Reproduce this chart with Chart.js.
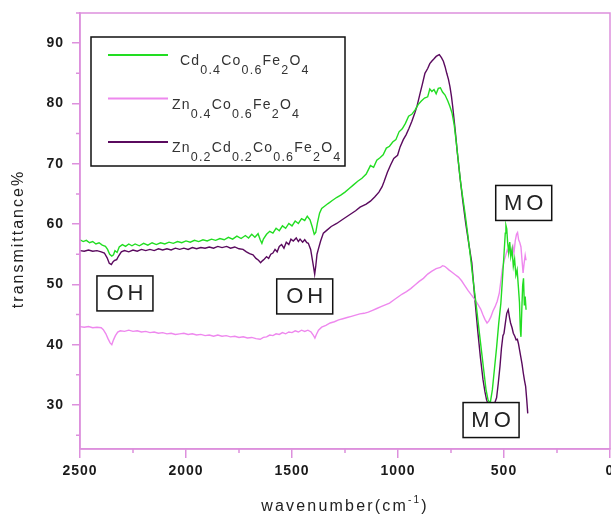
<!DOCTYPE html>
<html>
<head>
<meta charset="utf-8">
<script src="https://cdn.jsdelivr.net/npm/chart.js@4.4.0/dist/chart.umd.min.js"></script>
<style>
  html, body { margin: 0; padding: 0; background: #fff; overflow: hidden; }
  #wrap { width: 630px; height: 518px; }
</style>
</head>
<body>
<div id="wrap"><canvas id="ftirChart" width="630" height="518"></canvas></div>
<script>
const seriesLabels = ['Cd0.4Co0.6Fe2O4', 'Zn0.4Co0.6Fe2O4', 'Zn0.2Cd0.2Co0.6Fe2O4'];

const cdWave = [2500, 2485, 2470, 2455, 2440, 2425, 2410, 2395, 2380, 2370, 2360, 2350, 2342, 2335, 2325, 2315, 2300, 2285, 2270, 2255,
  2240, 2220, 2200, 2180, 2160, 2140, 2120, 2100, 2080, 2060, 2040, 2020, 2000, 1980, 1960, 1940, 1920, 1900, 1880, 1860,
  1840, 1820, 1800, 1780, 1760, 1740, 1720, 1705, 1690, 1675, 1660, 1650, 1642, 1635, 1620, 1605, 1590, 1575, 1560, 1545,
  1530, 1515, 1500, 1485, 1470, 1455, 1440, 1428, 1415, 1405, 1395, 1388, 1380, 1370, 1360, 1345, 1330, 1310, 1290, 1270,
  1250, 1230, 1210, 1190, 1170, 1150, 1130, 1115, 1100, 1085, 1070, 1055, 1040, 1025, 1010, 995, 980, 965, 950, 935,
  920, 905, 890, 875, 860, 850, 840, 830, 820, 810, 800, 790, 778, 765, 755, 745, 735, 725, 715, 705,
  695, 684, 670, 658, 646, 632, 618, 605, 595, 585, 575, 565, 555, 545, 535, 525, 515, 508, 500, 494,
  491, 487, 483, 478, 473, 468, 462, 456, 450, 444, 438, 432, 427, 423, 420, 416, 412, 408, 404, 400, 396];
const cdTrans = [57.4, 57.1, 57.3, 56.9, 57.1, 56.7, 56.9, 56.5, 56.3, 55.8, 55.0, 54.7, 54.9, 55.6, 55.3, 56.2, 56.6, 56.3, 56.7, 56.4,
  56.7, 56.4, 56.8, 56.5, 56.9, 56.6, 56.9, 56.7, 57.0, 56.8, 57.1, 56.9, 57.2, 57.0, 57.3, 57.1, 57.4, 57.2, 57.5, 57.3,
  57.6, 57.4, 57.8, 57.5, 58.0, 57.6, 58.1, 57.7, 58.3, 57.8, 58.4, 57.4, 56.8, 57.5, 58.3, 58.8, 58.5, 59.3, 58.9, 59.7,
  59.3, 60.1, 59.7, 60.5, 60.1, 60.9, 60.6, 61.3, 60.7, 59.6, 58.3, 58.6, 60.2, 61.8, 62.6, 63.0, 63.4, 63.9, 64.4, 64.8,
  65.3, 65.9, 66.5, 67.1, 67.6, 68.3, 69.7, 69.4, 70.6, 71.0, 71.5, 72.6, 72.9, 73.6, 74.0, 75.3, 75.8, 76.7, 77.9, 78.2,
  78.9, 79.8, 80.4, 80.9, 81.1, 82.4, 82.0, 82.3, 81.6, 82.5, 82.6, 81.9, 81.4, 80.4, 79.5, 78.4, 76.5, 73.5, 70.3, 67.0,
  64.5, 61.8, 58.0, 54.5, 50.8, 46.8, 42.5, 38.6, 35.6, 32.6, 30.8, 30.3, 32.5, 36.0, 39.5, 43.5, 46.8, 50.5, 55.0, 58.5,
  59.8, 59.2, 57.0, 55.3, 57.0, 54.6, 55.8, 53.0, 54.2, 51.5, 52.4, 49.5, 47.0, 42.5, 41.3, 45.8, 49.8, 51.0, 46.5, 48.0, 45.8];

const znWave = [2500, 2480, 2460, 2440, 2420, 2400, 2390, 2378, 2368, 2358, 2350, 2342, 2333, 2322, 2310, 2290, 2270, 2250, 2230, 2210,
  2190, 2170, 2150, 2130, 2110, 2090, 2070, 2050, 2030, 2010, 1990, 1970, 1950, 1930, 1910, 1890, 1870, 1850, 1830, 1810,
  1790, 1770, 1750, 1730, 1710, 1690, 1670, 1650, 1635, 1620, 1605, 1590, 1575, 1560, 1545, 1530, 1515, 1500, 1485, 1470,
  1455, 1440, 1425, 1410, 1400, 1392, 1385, 1375, 1360, 1340, 1320, 1300, 1280, 1260, 1240, 1220, 1200, 1180, 1160, 1140,
  1120, 1100, 1080, 1060, 1040, 1020, 1000, 980, 960, 940, 920, 900, 880, 860, 840, 820, 800, 790, 780, 770,
  760, 745, 730, 715, 700, 685, 670, 655, 640, 625, 610, 600, 590, 580, 572, 562, 552, 542, 532, 522,
  515, 508, 499, 492, 485, 478, 472, 465, 458, 453, 447, 441, 436, 431, 426, 420, 415, 410, 405, 400, 396];
const znTrans = [43.0, 42.9, 43.0, 42.8, 42.9, 42.8, 42.5, 41.8, 41.0, 40.3, 40.0, 40.8, 41.5, 42.1, 42.3, 42.2, 42.4, 42.2, 42.3, 42.1,
  42.2, 42.0, 42.1, 41.9, 42.0, 41.8, 41.9, 41.7, 41.8, 41.9, 41.7, 41.8, 41.6, 41.7, 41.5, 41.6, 41.4, 41.6, 41.4, 41.5,
  41.3, 41.4, 41.2, 41.3, 41.1, 41.2, 41.0, 40.9, 41.2, 41.3, 41.6, 41.5, 41.8, 41.7, 42.0, 41.8, 42.1, 42.0, 42.3, 42.1,
  42.4, 42.2, 42.4, 42.1, 41.6, 41.1, 41.7, 42.4, 42.9, 43.2, 43.6, 43.8, 44.1, 44.3, 44.5, 44.7, 44.9, 45.1, 45.2, 45.4,
  45.7, 46.0, 46.3, 46.6, 46.9, 47.4, 47.9, 48.4, 48.8, 49.3, 49.9, 50.5, 51.0, 51.7, 52.2, 52.6, 52.8, 53.1, 53.0, 52.7,
  52.4, 52.0, 51.6, 51.2, 50.6, 49.8, 49.0, 48.3, 47.6, 46.8, 45.9, 45.0, 44.2, 43.6, 43.9, 44.6, 45.6, 46.3, 47.2, 48.6,
  50.5, 52.5, 54.0, 54.8, 55.7, 55.2, 56.0, 55.2, 56.3, 55.2, 57.2, 58.3, 58.6, 57.4, 57.0, 56.2, 54.0, 51.9, 53.5, 54.8, 54.0];

const zncdWave = [2500, 2480, 2460, 2440, 2420, 2400, 2385, 2372, 2362, 2352, 2343, 2335, 2327, 2318, 2305, 2290, 2270, 2250, 2230, 2210,
  2190, 2170, 2150, 2130, 2110, 2090, 2070, 2050, 2030, 2010, 1990, 1970, 1950, 1930, 1910, 1890, 1870, 1850, 1830, 1808,
  1790, 1770, 1750, 1731, 1715, 1700, 1684, 1670, 1658, 1648, 1640, 1630, 1620, 1610, 1600, 1590, 1580, 1570, 1560, 1549,
  1538, 1527, 1515, 1505, 1494, 1480, 1470, 1462, 1450, 1440, 1430, 1423, 1412, 1404, 1398, 1393, 1388, 1382, 1376, 1365,
  1352, 1335, 1315, 1289, 1260, 1230, 1200, 1179, 1150, 1130, 1110, 1090, 1075, 1066, 1050, 1035, 1020, 1002, 990, 975,
  962, 948, 935, 920, 910, 895, 885, 873, 860, 850, 841, 830, 820, 810, 805, 795, 786, 778, 770, 762,
  755, 748, 742, 730, 720, 708, 695, 680, 665, 652, 638, 623, 611, 599, 590, 582, 570, 558, 545, 535,
  527, 519, 512, 505, 500, 492, 487, 480, 474, 469, 462, 456, 449, 443, 437, 432, 426, 421, 415, 409, 403, 398, 393, 388];
const zncdTrans = [55.6, 55.5, 55.7, 55.5, 55.6, 55.4, 55.2, 54.4, 53.5, 53.3, 53.8, 54.0, 54.1, 54.7, 55.4, 55.6, 55.4, 55.7, 55.5, 55.8,
  55.6, 55.8, 55.6, 55.9, 55.7, 55.9, 55.7, 56.0, 55.8, 56.0, 55.8, 56.1, 55.9, 56.1, 56.0, 56.2, 56.0, 56.3, 56.1, 56.3,
  56.0, 56.2, 55.9, 55.8, 55.4, 55.1, 54.9, 54.3, 54.0, 53.6, 53.9, 54.2, 54.6, 54.3, 55.0, 55.2, 55.8, 55.4, 56.3, 56.6,
  56.0, 57.0, 56.6, 57.5, 57.2, 57.7, 57.1, 57.5, 57.0, 57.4, 56.9, 56.8, 55.8, 54.1, 52.8, 51.7, 53.0, 55.0, 55.8, 57.2,
  58.5, 59.0, 59.6, 60.1, 60.8, 61.5, 62.2, 62.8, 63.3, 63.8, 64.5, 65.3, 66.2, 67.0, 68.6, 69.8, 70.9, 71.4, 72.8, 74.0,
  74.8, 75.9, 77.0, 78.5, 79.6, 81.8, 83.2, 85.0, 85.8, 86.6, 87.0, 87.4, 87.8, 88.0, 88.1, 87.6, 87.0, 86.1, 85.0, 84.0,
  82.8, 81.2, 79.5, 75.5, 71.8, 67.9, 64.0, 60.0, 56.5, 53.6, 47.8, 42.0, 37.8, 34.2, 32.2, 30.8, 29.8, 29.5, 30.2, 31.2,
  33.6, 36.4, 39.4, 41.5, 41.9, 44.0, 45.2, 45.8, 44.5, 43.6, 42.8, 41.9, 41.4, 40.8, 40.9, 40.2, 39.0, 38.0, 36.8, 35.3, 34.0, 33.1, 31.0, 28.6];

const xTicks = [2500, 2000, 1500, 1000, 500, 0];
const xMinorTicks = [2250, 1750, 1250, 750, 250];
const yTicks = [30, 40, 50, 60, 70, 80, 90];
const yMinorTicks = [25, 35, 45, 55, 65, 75, 85, 95];

// Étiquettes des bandes (OH, M-O)
const noteLabels = ['OH', 'OH', 'MO', 'MO'];
const noteWave = [2288, 1440, 407, 561];
const noteTrans = [48.5, 48.0, 63.5, 27.5];

const axisColor = '#dd90dd';
const lineColors = ['#22dd22', '#ee88ee', '#5a0a5e'];
const textColor = '#1a1a1a';

function toPoints(xs, ys) {
    return xs.map((x, i) => ({ x: x, y: ys[i] }));
}

// Texte avec indices (formules chimiques)
function drawFormula(ctx, text, x, y) {
    const parts = text.match(/[A-Za-z]+|\d+(?:\.\d+)?/g);
    let cx = x;
    parts.forEach(p => {
        const isNum = /\d/.test(p);
        ctx.font = isNum ? '12.5px "Liberation Sans", Arial' : '14px "Liberation Sans", Arial';
        ctx.fillText(p, cx, isNum ? y + 9 : y);
        cx += ctx.measureText(p).width;
    });
}

const decorPlugin = {
    id: 'decor',
    beforeDraw(chart) {
        chart.ctx.letterSpacing = '1px';
    },
    afterDatasetsDraw(chart) {
        const ctx = chart.ctx;
        const area = chart.chartArea;
        const xs = chart.scales.x;
        const ys = chart.scales.y;
        ctx.save();

        // cadre
        ctx.strokeStyle = axisColor;
        ctx.lineWidth = 1.5;
        ctx.strokeRect(area.left, area.top, area.right - area.left, area.bottom - area.top);

        // graduations secondaires
        ctx.beginPath();
        xMinorTicks.forEach(v => {
            const px = xs.getPixelForValue(v);
            ctx.moveTo(px, area.bottom);
            ctx.lineTo(px, area.bottom + 4);
        });
        yMinorTicks.forEach(v => {
            const py = ys.getPixelForValue(v);
            ctx.moveTo(area.left - 4, py);
            ctx.lineTo(area.left, py);
        });
        ctx.stroke();

        // boîtes OH / MO
        ctx.font = '22px "Liberation Sans", Arial';
        ctx.letterSpacing = '4px';
        ctx.textAlign = 'center';
        ctx.textBaseline = 'middle';
        noteLabels.forEach((lab, i) => {
            const px = xs.getPixelForValue(noteWave[i]);
            const py = ys.getPixelForValue(noteTrans[i]);
            const w = 56, h = 35;
            ctx.fillStyle = '#fff';
            ctx.fillRect(px - w / 2, py - h / 2, w, h);
            ctx.strokeStyle = '#111';
            ctx.lineWidth = 1.5;
            ctx.strokeRect(px - w / 2, py - h / 2, w, h);
            ctx.fillStyle = '#222';
            ctx.fillText(lab, px + 2, py + 1);
        });

        // légende
        const lx = area.left + 11, ly = area.top + 24;
        ctx.fillStyle = '#fff';
        ctx.fillRect(lx, ly, 254, 129);
        ctx.strokeStyle = '#111';
        ctx.lineWidth = 1.5;
        ctx.strokeRect(lx, ly, 254, 129);
        ctx.letterSpacing = '1.2px';
        ctx.textAlign = 'left';
        ctx.textBaseline = 'alphabetic';
        seriesLabels.forEach((lab, i) => {
            const y = ly + 18 + i * 43.5;
            ctx.strokeStyle = lineColors[i];
            ctx.lineWidth = 2;
            ctx.beginPath();
            ctx.moveTo(lx + 17, y);
            ctx.lineTo(lx + 77, y);
            ctx.stroke();
            ctx.fillStyle = '#333';
            drawFormula(ctx, lab, i === 0 ? lx + 89 : lx + 81, y + 10);
        });

        // titres des axes
        ctx.fillStyle = '#222';
        ctx.letterSpacing = '2.2px';
        const main = 'wavenumber(cm';
        const sup = '-1';
        ctx.font = '16px "Liberation Sans", Arial';
        const w1 = ctx.measureText(main).width;
        ctx.font = '10px "Liberation Sans", Arial';
        const w2 = ctx.measureText(sup).width;
        ctx.font = '16px "Liberation Sans", Arial';
        const w3 = ctx.measureText(')').width;
        let tx = (area.left + area.right) / 2 - (w1 + w2 + w3) / 2;
        const ty = 511;
        ctx.fillText(main, tx, ty);
        tx += w1;
        ctx.font = '10px "Liberation Sans", Arial';
        ctx.fillText(sup, tx, ty - 8);
        tx += w2;
        ctx.font = '16px "Liberation Sans", Arial';
        ctx.fillText(')', tx, ty);

        ctx.translate(23, (area.top + area.bottom) / 2 + 8);
        ctx.rotate(-Math.PI / 2);
        ctx.textAlign = 'center';
        ctx.letterSpacing = '2px';
        ctx.fillText('transmittance%', 0, 0);
        ctx.restore();
    }
};

function zeroPadding(scale) {
    scale.paddingTop = 0;
    scale.paddingBottom = 0;
    scale.paddingLeft = 0;
    scale.paddingRight = 0;
}

const tickFont = { family: '"Liberation Sans", Arial', size: 14, weight: 'bold' };

const ctx = document.getElementById('ftirChart').getContext('2d');
new Chart(ctx, {
    type: 'line',
    data: {
        datasets: [
            { label: seriesLabels[0], data: toPoints(cdWave, cdTrans), borderColor: lineColors[0] },
            { label: seriesLabels[1], data: toPoints(znWave, znTrans), borderColor: lineColors[1] },
            { label: seriesLabels[2], data: toPoints(zncdWave, zncdTrans), borderColor: lineColors[2] }
        ]
    },
    options: {
        responsive: false,
        animation: false,
        devicePixelRatio: 1,
        elements: {
            point: { radius: 0 },
            line: { borderWidth: 1.4, tension: 0, fill: false }
        },
        layout: { padding: { top: 13, right: 20, left: 0, bottom: 0 } },
        plugins: {
            legend: { display: false },
            tooltip: { enabled: false }
        },
        scales: {
            x: {
                type: 'linear',
                reverse: true,
                min: 0,
                max: 2500,
                afterBuildTicks: s => { s.ticks = xTicks.map(v => ({ value: v })); },
                afterFit: s => { s.height = 69; zeroPadding(s); },
                ticks: {
                    autoSkip: false,
                    maxRotation: 0,
                    padding: 5,
                    color: textColor,
                    font: tickFont,
                    callback: v => String(v)
                },
                grid: { drawOnChartArea: false, drawTicks: true, tickLength: 9, color: axisColor, lineWidth: 1.5 },
                border: { display: true, color: axisColor, width: 1.5 }
            },
            y: {
                type: 'linear',
                min: 22.7,
                max: 95,
                afterBuildTicks: s => { s.ticks = yTicks.map(v => ({ value: v })); },
                afterFit: s => { s.width = 80; zeroPadding(s); },
                ticks: {
                    padding: 8,
                    color: textColor,
                    font: tickFont,
                    callback: v => String(v)
                },
                grid: { drawOnChartArea: false, drawTicks: true, tickLength: 8, color: axisColor, lineWidth: 1.5 },
                border: { display: true, color: axisColor, width: 1.5 }
            }
        }
    },
    plugins: [decorPlugin]
});
</script>
</body>
</html>
